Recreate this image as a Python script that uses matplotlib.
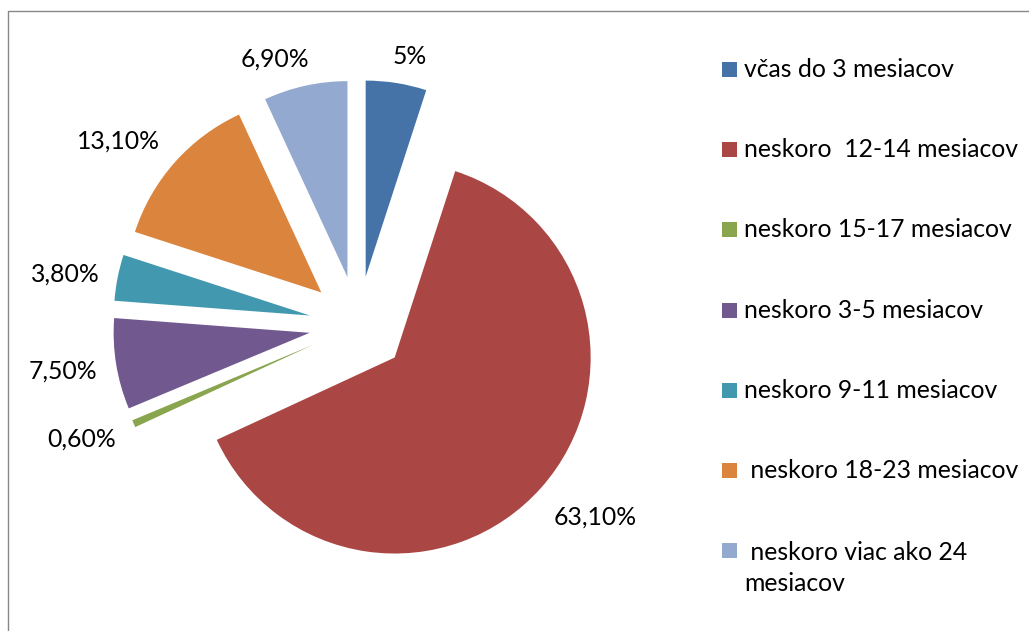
import matplotlib
matplotlib.use('Agg')
import matplotlib.pyplot as plt
from matplotlib.patches import Rectangle
from matplotlib.lines import Line2D

# data
categories = ['včas do 3 mesiacov', 'neskoro  12-14 mesiacov', 'neskoro 15-17 mesiacov',
              'neskoro 3-5 mesiacov', 'neskoro 9-11 mesiacov', ' neskoro 18-23 mesiacov',
              ' neskoro viac ako 24\nmesiacov']
shares = [5.0, 63.1, 0.6, 7.5, 3.8, 13.1, 6.9]
value_labels = ['5%', '63,10%', '0,60%', '7,50%', '3,80%', '13,10%', '6,90%']
colors = ['#4572A7', '#AA4643', '#89A54E', '#71588F', '#4198AF', '#DB843D', '#93A9CF']

# layout (pixels, y measured from the top)
W, H = 1029, 631
pie_center = (358, 325)
pie_radius = 196
gap = 49
label_xy = [(410, 56), (595, 517), (82, 439), (63, 371), (65, 274), (118, 141), (275, 59)]
legend_x, legend_y0, legend_step = 722, 77, 80.2
line_gap = 33

plt.rcParams['font.family'] = ['Lato', 'DejaVu Sans']
fs = 17.8

fig = plt.figure(figsize=(W / 100, H / 100), dpi=100)
ax = fig.add_axes([0, 0, 1, 1])
ax.pie(shares, colors=colors, startangle=90, counterclock=False,
       radius=pie_radius, center=(pie_center[0], H - pie_center[1]),
       explode=[gap] * len(shares), wedgeprops=dict(linewidth=0))
ax.set_xlim(0, W)
ax.set_ylim(0, H)
ax.set_aspect('auto')
ax.axis('off')

for txt, (x, y) in zip(value_labels, label_xy):
    ax.text(x, H - y, txt, ha='center', va='center', fontsize=fs, color='black')

# legend
for i, (name, c) in enumerate(zip(categories, colors)):
    base = legend_y0 + i * legend_step
    ax.add_patch(Rectangle((legend_x, H - base), 15, 15, color=c, lw=0))
    # baseline of a wrapped entry sits on its last line
    last = base + name.count('\n') * line_gap
    ax.text(legend_x + 22, H - last, name, ha='left', va='baseline',
            fontsize=fs, color='black', linespacing=1.45)

# chart border (only top and left edges are visible in the crop)
ax.add_line(Line2D([8, 8, W], [0, H - 11, H - 11], color='#888888', lw=1.0))

fig.savefig('out.png', dpi=100)
